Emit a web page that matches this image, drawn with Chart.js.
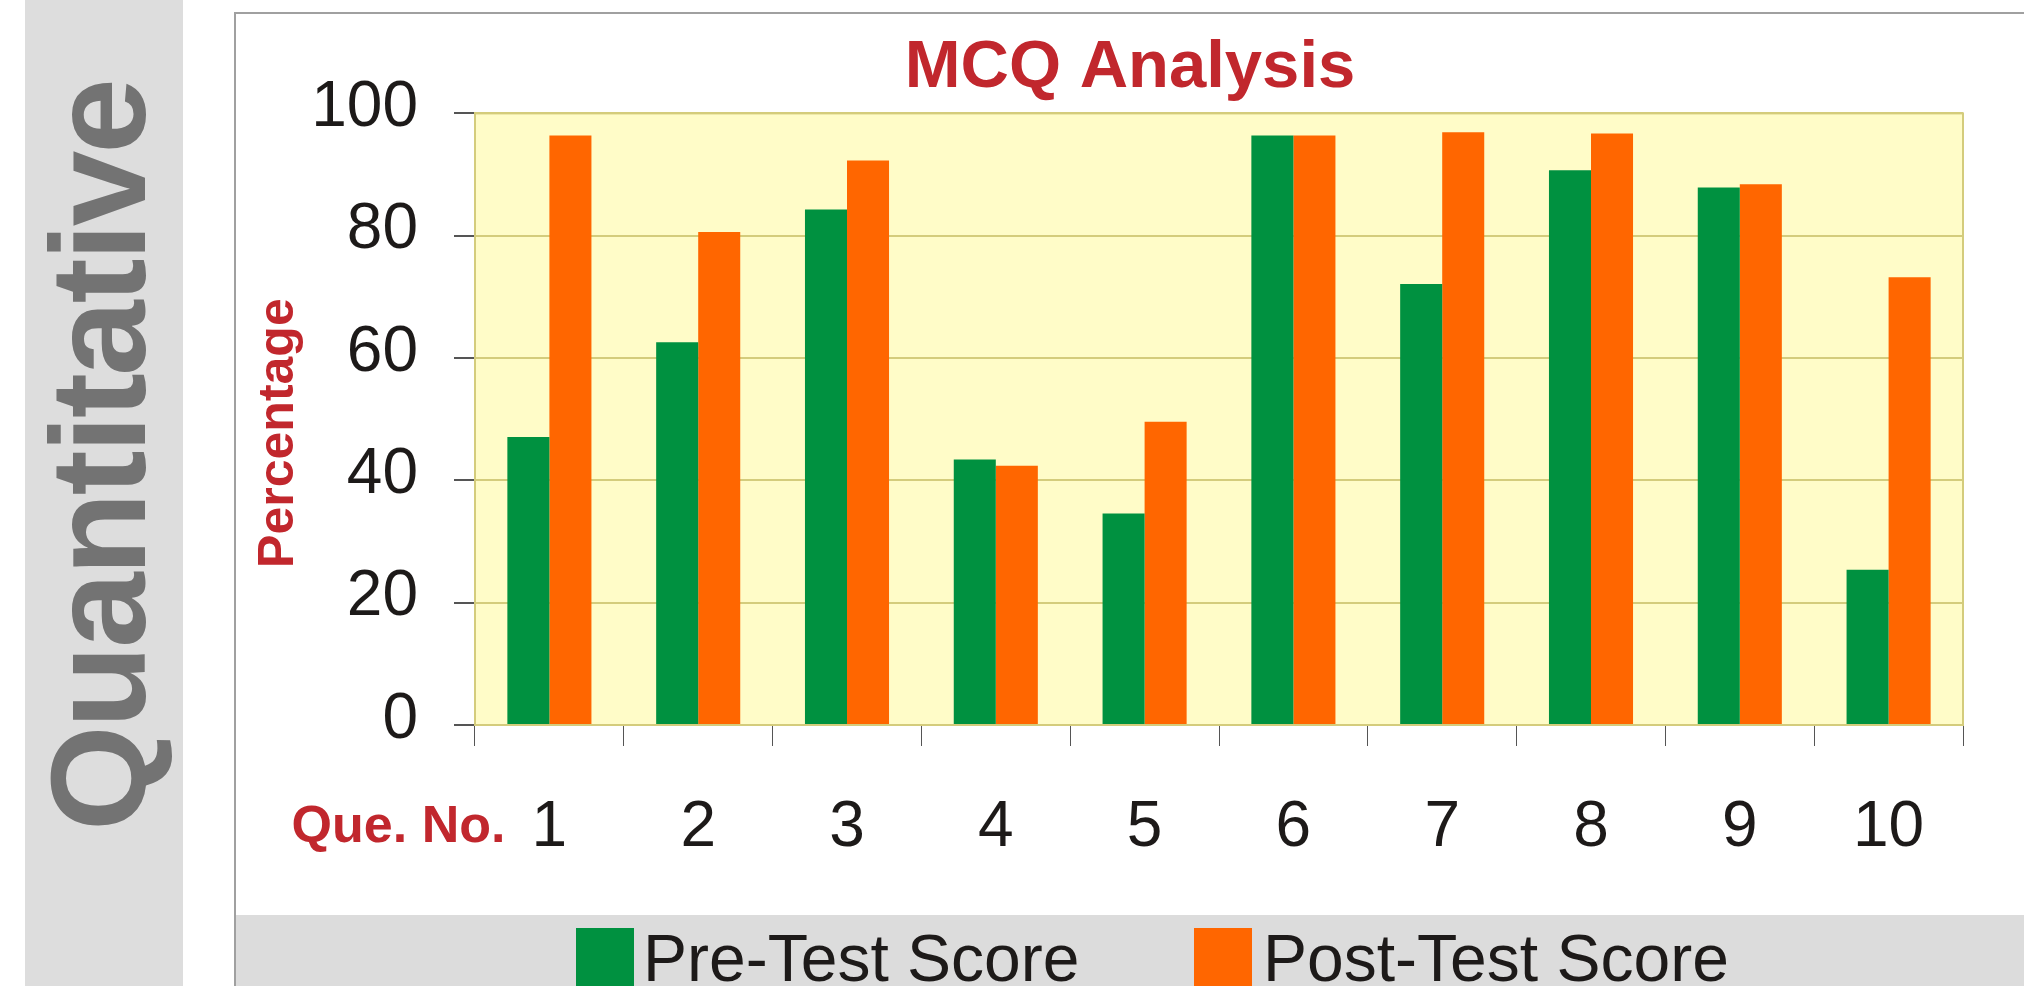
<!DOCTYPE html>
<html>
<head>
<meta charset="utf-8">
<script src="https://cdn.jsdelivr.net/npm/chart.js@4.4.1/dist/chart.umd.min.js"></script>
<style>
  body { margin: 0; width: 2024px; height: 986px; overflow: hidden; background: #fff; font-family: Arial, "Liberation Sans", sans-serif; position: relative; }
  #side { position: absolute; left: 25px; top: 0; width: 158px; height: 986px; background: #dddddd; overflow: hidden; }
  #sideText { position: absolute; left: -377px; top: 388px; width: 900px; height: 136px; line-height: 136px; text-align: center;
    font-size: 136px; font-weight: bold; color: #737373; letter-spacing: -3px; transform: rotate(-90deg); white-space: nowrap; }
  #frame { position: absolute; left: 234px; top: 12px; width: 1800px; height: 980px; border-left: 2px solid #a0a0a0; border-top: 2px solid #a0a0a0; }
  #box { position: absolute; left: 236px; top: 14px; width: 1788px; height: 901px; }
  #legend { position: absolute; left: 236px; top: 915px; width: 1788px; height: 71px; background: #dcdcdc; }
  .sw { position: absolute; top: 13px; width: 58px; height: 58px; }
  .lt { position: absolute; top: 10px; font-size: 66px; line-height: 66px; color: #1d1a19; white-space: nowrap; }
</style>
</head>
<body>
<div id="side"><div id="sideText">Quantitative</div></div>
<div id="frame"></div>
<div id="box"><canvas id="mcqChart"></canvas></div>
<div id="legend"></div>

<script>
// Data
const questions = ['1', '2', '3', '4', '5', '6', '7', '8', '9', '10'];
const preTest = [47.1, 62.6, 84.3, 43.4, 34.6, 96.4, 72.1, 90.7, 87.9, 25.4];
const postTest = [96.4, 80.6, 92.3, 42.4, 49.6, 96.4, 96.9, 96.7, 88.4, 73.2];
const seriesNames = ['Pre-Test Score', 'Post-Test Score'];
const seriesColors = ['#009140', '#ff6600'];
const yTicks = [0, 20, 40, 60, 80, 100];

const red = '#c1272d';
const ink = '#1d1a19';
const olive = '#d4cc7c';

// Yellow plot background + frame, and the "Que. No." label
const plotArea = {
  id: 'plotArea',
  beforeDraw(chart) {
    const { ctx, chartArea: a } = chart;
    ctx.save();
    ctx.fillStyle = '#fffcc8';
    ctx.fillRect(a.left, a.top, a.right - a.left, a.bottom - a.top);
    ctx.restore();
  },
  beforeDatasetsDraw(chart) {
    const { ctx, chartArea: a } = chart;
    ctx.save();
    ctx.strokeStyle = olive;
    ctx.lineWidth = 2;
    ctx.strokeRect(a.left, a.top, a.right - a.left, a.bottom - a.top);
    ctx.restore();
  },
  afterDraw(chart) {
    const { ctx } = chart;
    const x = chart.scales.x;
    ctx.save();
    ctx.font = 'bold 52px Arial, "Liberation Sans"';
    ctx.fillStyle = red;
    ctx.textAlign = 'right';
    ctx.textBaseline = 'alphabetic';
    ctx.fillText('Que. No.', x.getPixelForTick(0) - 44, x.top + 117);
    ctx.restore();
  }
};

const ctx = document.getElementById('mcqChart').getContext('2d');
const chart = new Chart(ctx, {
  type: 'bar',
  data: {
    labels: questions,
    datasets: [
      { label: seriesNames[0], data: preTest, backgroundColor: seriesColors[0] },
      { label: seriesNames[1], data: postTest, backgroundColor: seriesColors[1] }
    ]
  },
  options: {
    responsive: true,
    maintainAspectRatio: false,
    animation: false,
    // equal side padding keeps the title centred on the frame
    layout: { padding: { left: 61, right: 61, top: 0, bottom: 0 } },
    datasets: { bar: { categoryPercentage: 0.565, barPercentage: 1.0 } },
    plugins: {
      legend: { display: false },
      tooltip: { enabled: false },
      title: {
        display: true,
        text: 'MCQ Analysis',
        color: red,
        font: { family: 'Arial, "Liberation Sans"', size: 67, weight: 'bold' },
        padding: { top: 14, bottom: 5 }
      }
    },
    scales: {
      x: {
        afterFit(scale) { scale.height = 190; },
        grid: { drawOnChartArea: false, drawTicks: true, tickLength: 21, tickColor: '#555', offset: true },
        border: { color: olive, width: 2 },
        ticks: { color: ink, padding: 44, font: { family: 'Arial, "Liberation Sans"', size: 64 } }
      },
      y: {
        min: 0,
        max: 100,
        afterFit(scale) { scale.width = 178; },
        afterBuildTicks(scale) { scale.ticks = yTicks.map(v => ({ value: v })); },
        grid: { color: olive, lineWidth: 2, tickLength: 21, tickColor: '#555' },
        border: { color: olive, width: 2 },
        ticks: { color: ink, padding: 36, labelOffset: -5, font: { family: 'Arial, "Liberation Sans"', size: 64 } },
        title: {
          display: true,
          text: 'Percentage\u00a0\u00a0',
          color: red,
          padding: { top: -48, bottom: 0 },
          font: { family: 'Arial, "Liberation Sans"', size: 50, weight: 'bold' }
        }
      }
    }
  },
  plugins: [plotArea]
});

// Legend strip
const legend = document.getElementById('legend');
const swatchLeft = [340, 958];
const textLeft = [407, 1027];
seriesNames.forEach((name, i) => {
  const sw = document.createElement('div');
  sw.className = 'sw';
  sw.style.left = swatchLeft[i] + 'px';
  sw.style.background = seriesColors[i];
  legend.appendChild(sw);
  const t = document.createElement('div');
  t.className = 'lt';
  t.style.left = textLeft[i] + 'px';
  t.textContent = name;
  legend.appendChild(t);
});
</script>
</body>
</html>
